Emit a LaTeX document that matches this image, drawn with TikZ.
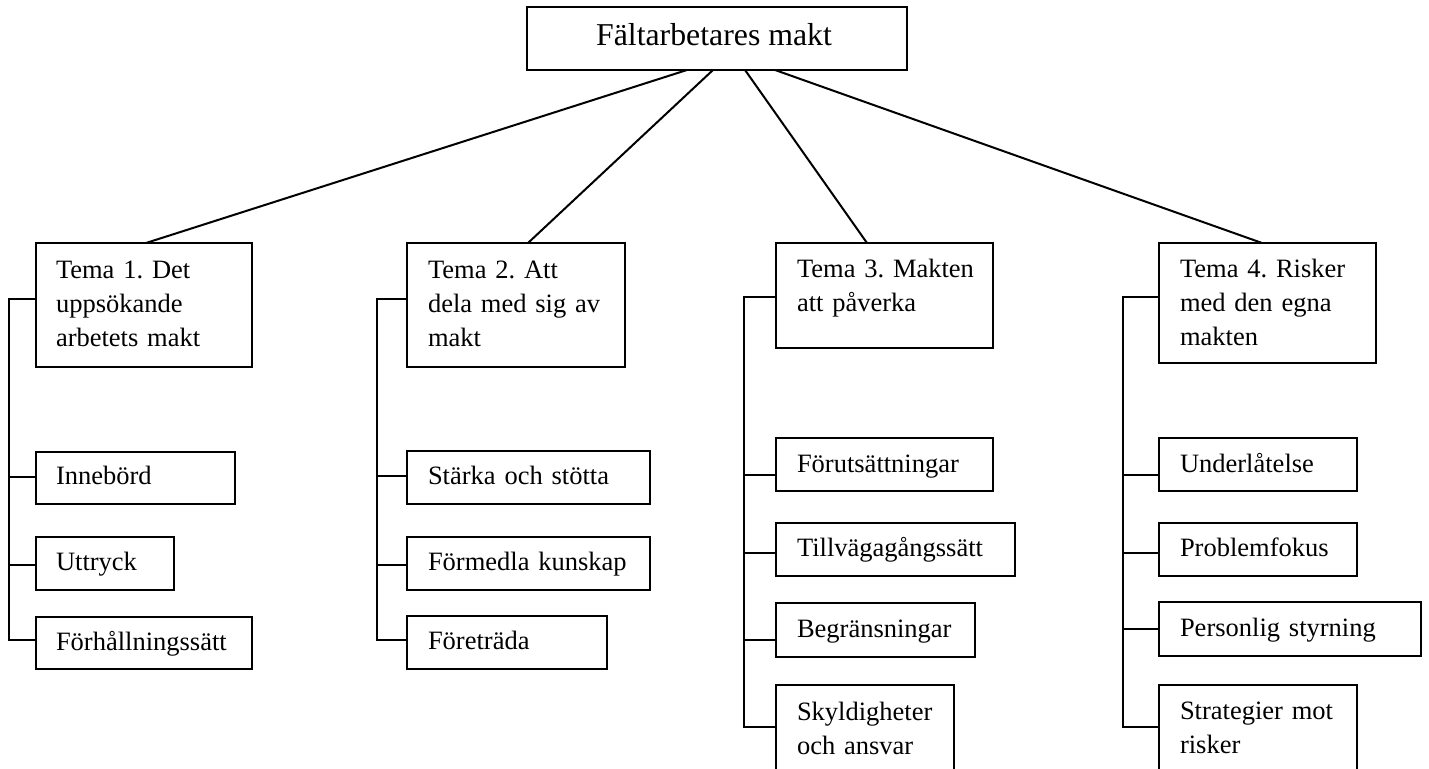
\documentclass[tikz,border=0pt]{standalone}
\usepackage{fontspec}
\setmainfont{Liberation Serif}
\usetikzlibrary{calc}
\frenchspacing
\newcommand{\tbox}[5]{\node[box,anchor=north west,minimum width={(#4-#2)*0.5pt},minimum height={(#5-#3)*0.5pt}] (#1) at (#2,#3) {};}
\begin{document}
\frenchspacing
\begin{tikzpicture}[x=0.5pt,y=-0.5pt,line width=1pt,
  box/.style={draw,rectangle,inner sep=0pt,outer sep=0pt},
  txt/.style={inner sep=0pt,outer sep=0pt,text width=170pt,align=left,anchor=base west,font=\fontsize{13.25}{17}\selectfont\frenchspacing},
  toptxt/.style={inner sep=0pt,outer sep=0pt,anchor=base,font=\fontsize{15.9}{19}\selectfont},
  conn/.style={draw,line width=1pt}]
\clip (0,0) rectangle (1429,769);
% boxes
\tbox{top}{527}{7}{907}{70}
\tbox{t1}{36}{243}{252}{367}
\tbox{t2}{407}{243}{625}{367}
\tbox{t3}{776}{243}{993}{348}
\tbox{t4}{1159}{243}{1376}{363}
\tbox{a1}{36}{452}{235}{504}
\tbox{a2}{36}{537}{174}{590}
\tbox{a3}{36}{617}{252}{669}
\tbox{b1}{407}{451}{650}{504}
\tbox{b2}{407}{537}{650}{590}
\tbox{b3}{407}{616}{607}{669}
\tbox{c1}{776}{438}{993}{491}
\tbox{c2}{776}{523}{1015}{576}
\tbox{c3}{776}{603}{975}{657}
\tbox{c4}{776}{685}{954}{790}
\tbox{d1}{1159}{438}{1357}{491}
\tbox{d2}{1159}{523}{1357}{576}
\tbox{d3}{1159}{602}{1421}{656}
\tbox{d4}{1159}{685}{1357}{790}
% texts
\node[toptxt] (topT) at ($(top.north west)+(187,39)$) {Fältarbetares makt};
\node[txt] (t1T) at ($(t1.north west)+(20,36)$) {Tema 1. Det\\uppsökande\\arbetets makt};
\node[txt] (t2T) at ($(t2.north west)+(21,36)$) {Tema 2. Att\\dela med sig av\\makt};
\node[txt] (t3T) at ($(t3.north west)+(21,35)$) {Tema 3. Makten\\att påverka};
\node[txt] (t4T) at ($(t4.north west)+(21,35)$) {Tema 4. Risker\\med den egna\\makten};
\node[txt] (a1T) at ($(a1.north west)+(20,33)$) {Innebörd};
\node[txt] (a2T) at ($(a2.north west)+(20,33)$) {Uttryck};
\node[txt] (a3T) at ($(a3.north west)+(20,33)$) {Förhållningssätt};
\node[txt] (b1T) at ($(b1.north west)+(21,34)$) {Stärka och stötta};
\node[txt] (b2T) at ($(b2.north west)+(21,33)$) {Förmedla kunskap};
\node[txt] (b3T) at ($(b3.north west)+(21,33)$) {Företräda};
\node[txt] (c1T) at ($(c1.north west)+(21,35)$) {Förutsättningar};
\node[txt] (c2T) at ($(c2.north west)+(21,34)$) {Tillvägagångssätt};
\node[txt] (c3T) at ($(c3.north west)+(21,34)$) {Begränsningar};
\node[txt] (c4T) at ($(c4.north west)+(21,35)$) {Skyldigheter\\och ansvar};
\node[txt] (d1T) at ($(d1.north west)+(21,35)$) {Underlåtelse};
\node[txt] (d2T) at ($(d2.north west)+(21,34)$) {Problemfokus};
\node[txt] (d3T) at ($(d3.north west)+(21,34)$) {Personlig styrning};
\node[txt] (d4T) at ($(d4.north west)+(21,34)$) {Strategier mot\\risker};
% top connectors
\draw[conn] ($(top.south west)+(160,0)$) -- ($(t1.north west)+(110,0)$);
\draw[conn] ($(top.south west)+(186,0)$) -- ($(t2.north west)+(121,0)$);
\draw[conn] ($(top.south west)+(218,0)$) -- ($(t3.north west)+(91,0)$);
\draw[conn] ($(top.south west)+(248,0)$) -- ($(t4.north west)+(103,0)$);
% tree trunks
\coordinate (tr1) at (9,0);
\coordinate (tr2) at (377,0);
\coordinate (tr3) at (744,0);
\coordinate (tr4) at (1123,0);
\coordinate (t1c) at ($(t1.north west)+(0,56)$);
\coordinate (t2c) at ($(t2.north west)+(0,56)$);
\coordinate (t3c) at ($(t3.north west)+(0,54)$);
\coordinate (t4c) at ($(t4.north west)+(0,54)$);
\coordinate (a1c) at ($(a1.north west)+(0,25)$);
\coordinate (a2c) at ($(a2.north west)+(0,28)$);
\coordinate (a3c) at ($(a3.north west)+(0,23)$);
\coordinate (b1c) at ($(b1.north west)+(0,25)$);
\coordinate (b2c) at ($(b2.north west)+(0,28)$);
\coordinate (b3c) at ($(b3.north west)+(0,24)$);
\coordinate (c1c) at ($(c1.north west)+(0,37)$);
\coordinate (c2c) at ($(c2.north west)+(0,30)$);
\coordinate (c3c) at ($(c3.north west)+(0,37)$);
\coordinate (c4c) at ($(c4.north west)+(0,42)$);
\coordinate (d1c) at ($(d1.north west)+(0,37)$);
\coordinate (d2c) at ($(d2.north west)+(0,30)$);
\coordinate (d3c) at ($(d3.north west)+(0,27)$);
\coordinate (d4c) at ($(d4.north west)+(0,42)$);
\draw[conn] (t1c) -| (tr1 |- a3c) -- (a3c);
\draw[conn] (tr1 |- a1c) -- (a1c);
\draw[conn] (tr1 |- a2c) -- (a2c);
\draw[conn] (t2c) -| (tr2 |- b3c) -- (b3c);
\draw[conn] (tr2 |- b1c) -- (b1c);
\draw[conn] (tr2 |- b2c) -- (b2c);
\draw[conn] (t3c) -| (tr3 |- c4c) -- (c4c);
\draw[conn] (tr3 |- c1c) -- (c1c);
\draw[conn] (tr3 |- c2c) -- (c2c);
\draw[conn] (tr3 |- c3c) -- (c3c);
\draw[conn] (t4c) -| (tr4 |- d4c) -- (d4c);
\draw[conn] (tr4 |- d1c) -- (d1c);
\draw[conn] (tr4 |- d2c) -- (d2c);
\draw[conn] (tr4 |- d3c) -- (d3c);
\end{tikzpicture}
\end{document}
